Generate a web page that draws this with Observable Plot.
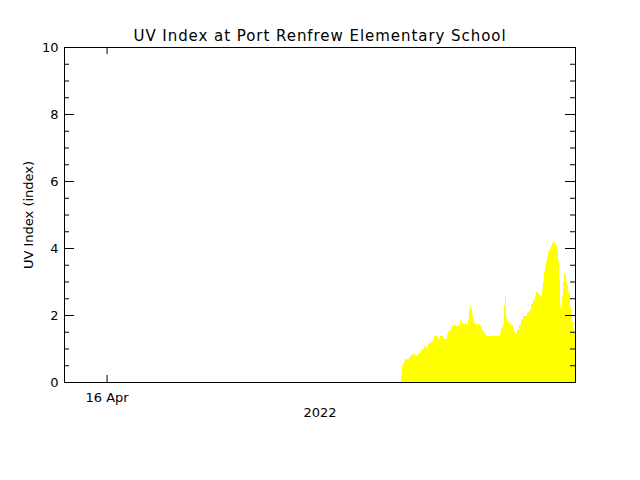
<!DOCTYPE html>
<html><head><meta charset="utf-8">
<script src="https://cdn.jsdelivr.net/npm/d3@7"></script>
<script src="https://cdn.jsdelivr.net/npm/@observablehq/plot@0.6"></script>
<style>html,body{margin:0;padding:0;background:#fff} svg{display:block}</style>
</head><body><div id="chart"></div>
<script>
const title = "UV Index at Port Renfrew Elementary School";
const yLabel = "UV Index (index)";
const yearLabel = "2022";
const xDomain = ["2022-04-15T22:00:00Z", "2022-04-16T22:00:00Z"];
const xTickDates = ["2022-04-16T00:00:00Z"];
const xTickLabels = ["16 Apr"];
const yMajorTicks = [0, 2, 4, 6, 8, 10];
const yMinorTicks = [0.5, 1, 1.5, 2.5, 3, 3.5, 4.5, 5, 5.5, 6.5, 7, 7.5, 8.5, 9, 9.5];
const firstSample = "2022-04-16T13:49:36Z";
const lastSample = "2022-04-16T22:00:00Z";
const uvValues = [
  0.20, 0.48, 0.56, 0.61, 0.68, 0.68, 0.68, 0.68, 0.76, 0.76,
  0.81, 0.81, 0.81, 0.86, 0.78, 0.78, 0.78, 0.84, 0.84, 0.90,
  0.98, 0.98, 0.98, 1.07, 1.07, 1.04, 1.04, 1.16, 1.16, 1.16,
  1.22, 1.22, 1.29, 1.37, 1.37, 1.37, 1.37, 1.29, 1.29, 1.37,
  1.37, 1.37, 1.29, 1.29, 1.29, 1.29, 1.41, 1.50, 1.50, 1.57,
  1.63, 1.68, 1.68, 1.71, 1.71, 1.67, 1.67, 1.70, 1.70, 1.88,
  1.75, 1.75, 1.75, 1.75, 1.75, 1.75, 1.67, 1.87, 2.15, 2.27,
  2.21, 2.03, 1.87, 1.75, 1.75, 1.75, 1.67, 1.73, 1.73, 1.67,
  1.67, 1.53, 1.53, 1.45, 1.45, 1.37, 1.37, 1.37, 1.37, 1.37,
  1.37, 1.37, 1.37, 1.37, 1.37, 1.37, 1.37, 1.37, 1.37, 1.47,
  1.63, 1.63, 1.73, 2.29, 2.60, 1.90, 1.80, 1.80, 1.75, 1.75,
  1.70, 1.70, 1.63, 1.50, 1.45, 1.45, 1.57, 1.57, 1.70, 1.70,
  1.87, 1.87, 1.97, 1.97, 1.97, 1.97, 2.07, 2.07, 2.15, 2.15,
  2.33, 2.33, 2.45, 2.45, 2.55, 2.69, 2.69, 2.63, 2.63, 2.55,
  2.55, 2.77, 2.99, 3.30, 3.44, 3.60, 3.74, 3.89, 3.96, 3.99,
  4.06, 4.14, 4.18, 4.18, 4.12, 4.06, 3.95, 3.60, 3.05, 2.30,
  2.20, 2.60, 3.00, 3.25, 3.20, 3.00, 2.90, 2.70, 2.65, 2.25,
  2.00, 1.80, 1.60, 1.45
];

// regular sampling between first sample and end of record
const t0 = new Date(firstSample).getTime();
const t1 = new Date(lastSample).getTime();
const step = (t1 - t0) / uvValues.length;
const data = uvValues.map((uv, i) => ({t: new Date(t0 + i * step), uv}));
data.push({t: new Date(t1), uv: uvValues[uvValues.length - 1]});

const W = 640, H = 480, ML = 64, MR = 65, MT = 47, MB = 98;
const FW = W - ML - MR, FH = H - MT - MB;
const tickLabel = new Map(xTickDates.map((d, i) => [new Date(d).getTime(), xTickLabels[i]]));
const xTicks = xTickDates.map(d => new Date(d));
const font = "DejaVu Sans";

const chart = Plot.plot({
  width: W, height: H,
  marginLeft: ML, marginRight: MR, marginTop: MT, marginBottom: MB,
  style: {fontFamily: font, fontSize: "13px", background: "white", color: "black"},
  x: {type: "utc", domain: xDomain.map(d => new Date(d)), axis: null},
  y: {domain: [0, 10], axis: null},
  marks: [
    Plot.areaY(data, {x: "t", y: "uv", curve: "step-after", fill: "#ffff00"}),
    Plot.tickY(yMajorTicks, {y: d => d, insetRight: FW - 10, stroke: "black"}),
    Plot.tickY(yMajorTicks, {y: d => d, insetLeft: FW - 10, stroke: "black"}),
    Plot.tickY(yMinorTicks, {y: d => d, insetRight: FW - 5, stroke: "black"}),
    Plot.tickY(yMinorTicks, {y: d => d, insetLeft: FW - 5, stroke: "black"}),
    Plot.tickX(xTicks, {x: d => d, insetTop: FH - 7, stroke: "black"}),
    Plot.tickX(xTicks, {x: d => d, insetBottom: FH - 7, stroke: "black"}),
    Plot.frame({stroke: "black"}),
    Plot.text(yMajorTicks, {y: d => d, text: d => String(d), frameAnchor: "left", dx: -6, textAnchor: "end", fontSize: 13}),
    Plot.text(xTicks, {x: d => d, text: d => tickLabel.get(d.getTime()), frameAnchor: "bottom", dy: 19, fontSize: 13}),
    Plot.text([yearLabel], {text: d => d, frameAnchor: "bottom", dy: 34, fontSize: 13}),
    Plot.text([yLabel], {text: d => d, frameAnchor: "left", textAnchor: "middle", lineAnchor: "middle", rotate: -90, dx: -36, fontSize: 13}),
    Plot.text([title], {text: d => d, frameAnchor: "top", dy: -17, fontSize: 15})
  ]
});
d3.select(chart).selectAll("text").filter(function () { return this.textContent === title; })
  .style("letter-spacing", "0.95px");
document.getElementById("chart").appendChild(chart);
</script>
</body></html>
